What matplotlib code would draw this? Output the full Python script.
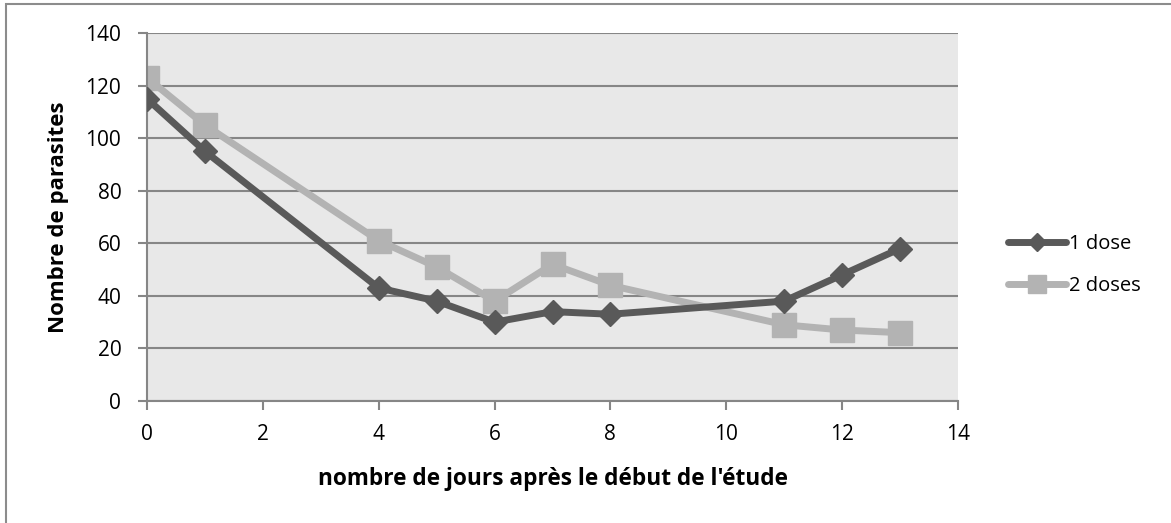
import matplotlib
matplotlib.use('Agg')
import matplotlib.pyplot as plt
from matplotlib.patches import Rectangle

jours = [0, 1, 4, 5, 6, 7, 8, 11, 12, 13]
une_dose = [115, 95, 43, 38, 30, 34, 33, 38, 48, 58]
deux_doses = [123, 105, 61, 51, 38, 52, 44, 29, 27, 26]

FONT = "Open Sans"
GRILLE = "#868686"

fig = plt.figure(figsize=(11.71, 5.23), dpi=100)
fig.patches.append(Rectangle((6 / 1171, -0.01), 1.02, 1 - 4 / 523 + 0.01,
                             transform=fig.transFigure, fill=False,
                             edgecolor="#8c8c8c", linewidth=1.5))

ax = fig.add_axes([147 / 1171, 1 - 401 / 523, (958 - 147) / 1171, (401 - 33) / 523])
ax.set_facecolor("#e8e8e8")

ax.plot(jours, une_dose, color="#595959", linewidth=5, marker="D", markersize=12,
        solid_capstyle="round", label="1 dose", zorder=3)
ax.plot(jours, deux_doses, color="#b3b3b3", linewidth=5, marker="s", markersize=17,
        solid_capstyle="round", label="2 doses", zorder=2)

ax.set_xlim(0, 14)
ax.set_ylim(0, 140)
ax.set_xticks(range(0, 15, 2))
ax.set_yticks(range(0, 141, 20))
ax.yaxis.grid(True, color=GRILLE, linewidth=1.5)
ax.set_axisbelow(True)

for s in ["top", "right"]:
    ax.spines[s].set_visible(False)
for s in ["left", "bottom"]:
    ax.spines[s].set_color(GRILLE)
    ax.spines[s].set_linewidth(1.5)
ax.tick_params(colors=GRILLE, length=6.5, width=1.5, labelcolor="black", labelsize=15)
ax.tick_params(axis="x", pad=10)
ax.tick_params(axis="y", pad=12)
for lab in ax.get_xticklabels() + ax.get_yticklabels():
    lab.set_fontfamily(FONT)

ax.set_xlabel("nombre de jours après le début de l'étude", fontsize=16.3, fontweight="bold",
              fontfamily=FONT, labelpad=16)
ax.set_ylabel("Nombre de parasites", fontsize=16, fontweight="bold", fontfamily=FONT, labelpad=12)

leg = ax.legend(loc="center left", bbox_to_anchor=(1008 / 1171, 1 - 265 / 523),
                bbox_transform=fig.transFigure, frameon=False, borderpad=0, borderaxespad=0,
                prop={"family": FONT, "size": 14.5}, handlelength=2.9, handletextpad=0.15,
                labelspacing=1.05, markerscale=0.75)

fig.savefig("out.png", dpi=100)
